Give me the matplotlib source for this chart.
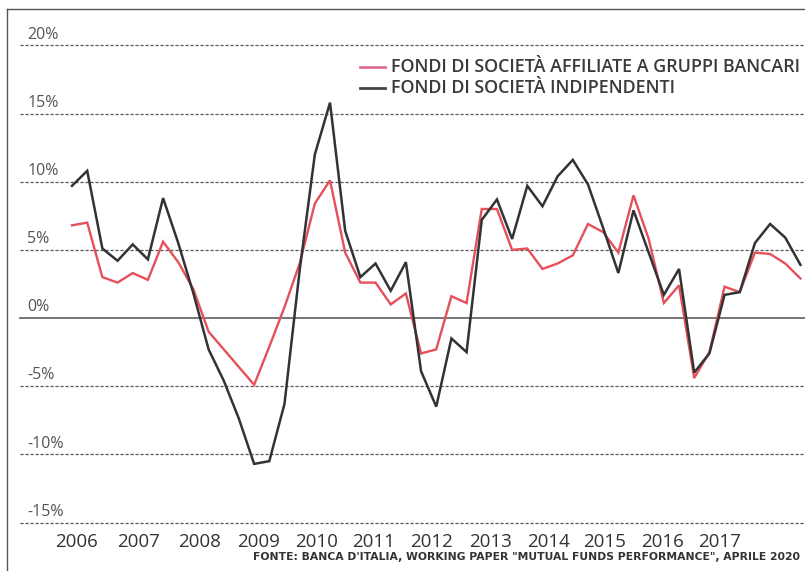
# Rendimento fondi: società affiliate a gruppi bancari vs indipendenti
import numpy as np
import matplotlib.pyplot as plt
from matplotlib.transforms import blended_transform_factory

# dati trimestrali (in %)
bancari = [6.8, 7.0, 3.0, 2.6, 3.3, 2.8, 5.6, 4.1, 2.1, -1.0,
           -2.3, -3.6, -4.9, -2.1, 0.8, 4.0, 8.4, 10.1, 4.8, 2.6,
           2.6, 1.0, 1.8, -2.6, -2.3, 1.6, 1.1, 8.0, 8.0, 5.0,
           5.1, 3.6, 4.0, 4.6, 6.9, 6.3, 4.8, 9.0, 5.8, 1.1,
           2.4, -4.4, -2.5, 2.3, 1.9, 4.8, 4.7, 4.0, 2.9]
indipendenti = [9.7, 10.8, 5.1, 4.2, 5.4, 4.3, 8.8, 5.5, 1.8, -2.3,
                -4.6, -7.4, -10.7, -10.5, -6.3, 3.5, 12.0, 15.8, 6.4, 3.0,
                4.0, 2.0, 4.1, -3.9, -6.5, -1.5, -2.5, 7.2, 8.7, 5.8,
                9.7, 8.2, 10.4, 11.6, 9.8, 6.6, 3.3, 7.9, 4.8, 1.7,
                3.6, -4.0, -2.6, 1.7, 1.9, 5.5, 6.9, 5.9, 3.9]
anni = ['2006', '2007', '2008', '2009', '2010', '2011',
        '2012', '2013', '2014', '2015', '2016', '2017']
pos_anni = [0.3, 4.4, 8.4, 12.3, 16.1, 19.9, 23.7, 27.6, 31.4, 35.1, 38.9, 42.7]
livelli = [20, 15, 10, 5, 0, -5, -10, -15]

FONT = ['Open Sans', 'DejaVu Sans']
x = np.arange(len(bancari))

fig = plt.figure(figsize=(8.05, 5.71), dpi=100)
# area del grafico in pixel: da x=18 a 805, da y=30 a 530 (dall'alto)
ax = fig.add_axes([18 / 805, (571 - 530) / 571, 787 / 805, 500 / 571])
ax.set_xlim(-3.56, 48.3)
ax.set_ylim(-15.55, 21.13)
for s in ax.spines.values():
    s.set_visible(False)

# griglia orizzontale
for v in livelli:
    if v == 0:
        ax.axhline(v, color='#6a6a6a', lw=1.3, xmin=0.003)
    else:
        ax.axhline(v, color='#555555', lw=0.9, ls=(0, (2.5, 1.5)), xmin=0.003)

trans = blended_transform_factory(ax.transAxes, ax.transData)
for v in livelli:
    ax.text(0.012, v + 0.2, f'{v}%', transform=trans, ha='left', va='bottom',
            fontsize=11.5, color='#555555', family=FONT)

# serie
ax.plot(x, bancari, color='#e5505a', lw=1.7, solid_joinstyle='miter', zorder=3)
ax.plot(x, indipendenti, color='#333333', lw=1.8, solid_joinstyle='miter', zorder=4)

# asse x
ax.set_xticks(pos_anni)
ax.set_xticklabels(anni, fontsize=13.5, color='#333333', family=FONT)
ax.tick_params(axis='x', length=0, pad=2)
ax.set_yticks([])

# legenda
fig.lines.append(plt.Line2D([360 / 805, 385 / 805], [1 - 67 / 571, 1 - 67 / 571],
                            color='#e07090', lw=2, transform=fig.transFigure))
fig.lines.append(plt.Line2D([360 / 805, 385 / 805], [1 - 88 / 571, 1 - 88 / 571],
                            color='#444444', lw=2, transform=fig.transFigure))
fig.text(391 / 805, 1 - 67 / 571, 'FONDI DI SOCIETÀ AFFILIATE A GRUPPI BANCARI',
         va='center', ha='left', fontsize=12.9, color='#3a3a3a',
         weight='semibold', family=FONT)
fig.text(391 / 805, 1 - 88 / 571, 'FONDI DI SOCIETÀ INDIPENDENTI',
         va='center', ha='left', fontsize=12.9, color='#3a3a3a',
         weight='semibold', family=FONT)

# fonte
fig.text(800 / 805, 1 - 557 / 571,
         'FONTE: BANCA D\'ITALIA, WORKING PAPER "MUTUAL FUNDS PERFORMANCE", APRILE 2020',
         ha='right', va='center', fontsize=7.75, color='#333333', weight='bold',
         family=['Liberation Sans Narrow', 'DejaVu Sans'])

# cornice
fig.lines.append(plt.Line2D([7 / 805, 7 / 805], [0, 1 - 9 / 571],
                            color='#555555', lw=1, transform=fig.transFigure))
fig.lines.append(plt.Line2D([7 / 805, 1], [1 - 9 / 571, 1 - 9 / 571],
                            color='#555555', lw=1, transform=fig.transFigure))

fig.savefig('out.png', dpi=100)
